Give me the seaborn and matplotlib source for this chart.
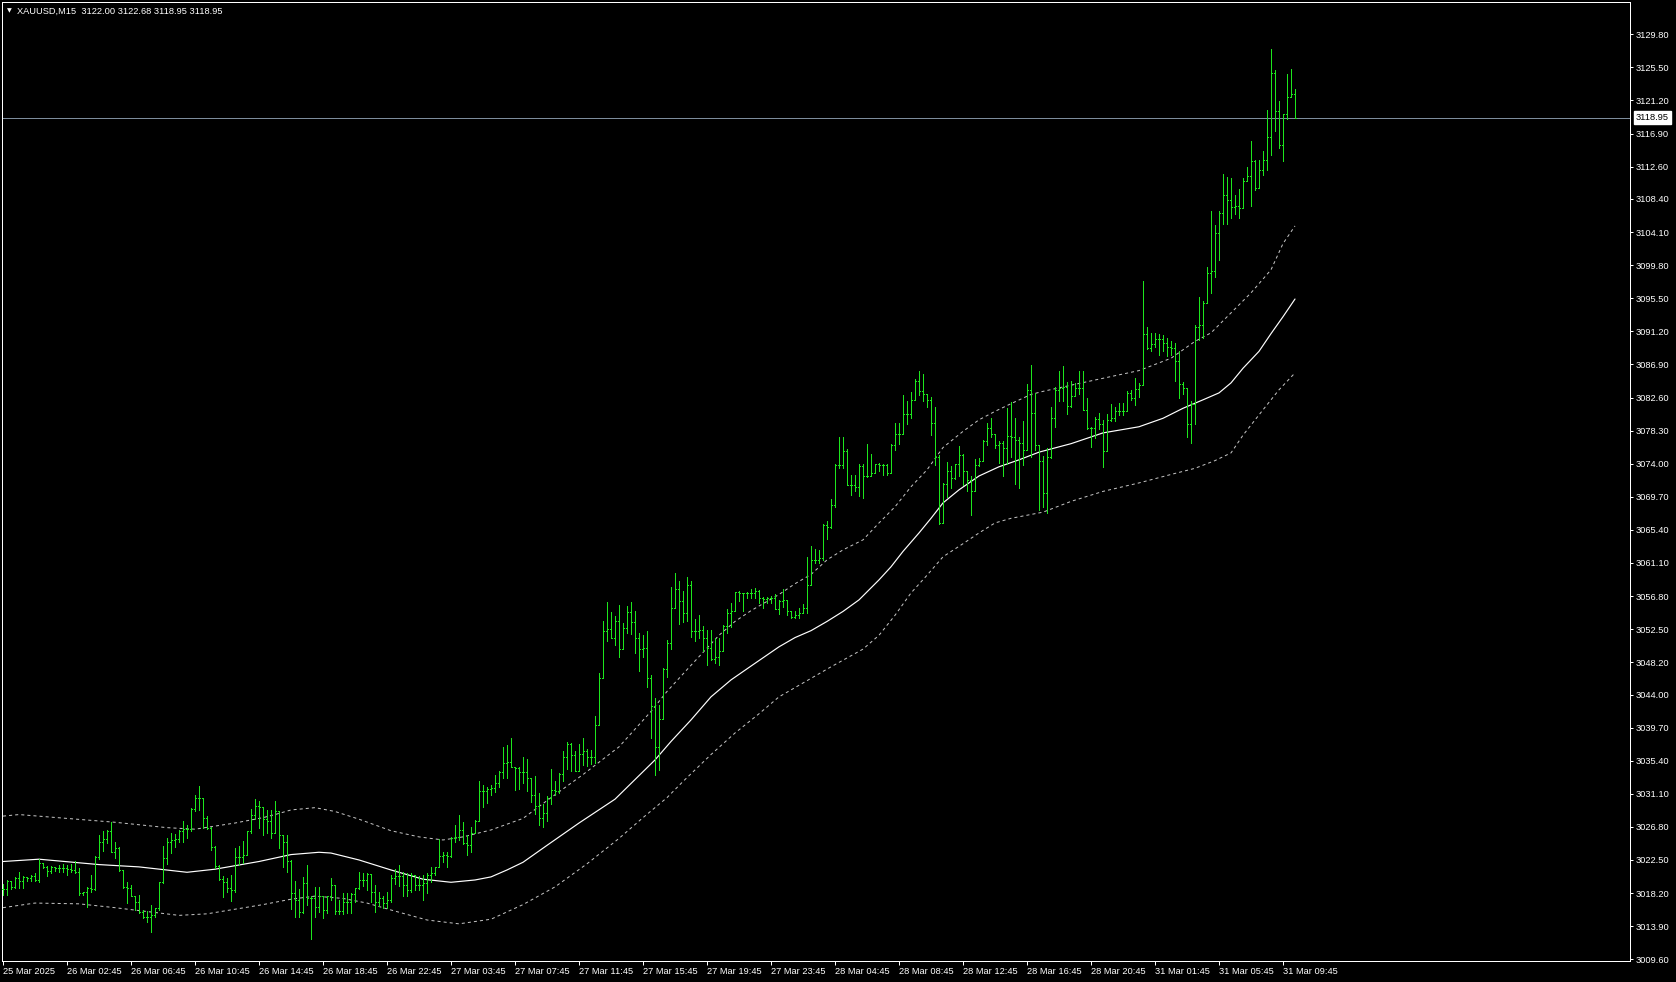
import numpy as np
import pandas as pd
import matplotlib
matplotlib.use("Agg")
import matplotlib.pyplot as plt
import seaborn as sns

# XAUUSD M15 bars (bar 0 = 25 Mar 22:45)
bar_open = [
    3018.7, 3018.7, 3019.8, 3019.0, 3020.2, 3019.8, 3020.3, 3020.1, 3020.4, 3019.9,
    3022.1, 3021.6, 3021.1, 3021.6, 3021.4, 3021.4, 3021.4, 3021.3, 3021.2, 3020.9,
    3018.2, 3018.3, 3018.9, 3018.7, 3022.9, 3024.9, 3025.2, 3026.2, 3023.6, 3024.1,
    3021.2, 3019.0, 3018.9, 3017.8, 3017.0, 3015.8, 3015.1, 3015.1, 3015.4, 3016.2,
    3019.6, 3022.7, 3024.8, 3025.1, 3025.2, 3026.2, 3026.5, 3026.5, 3029.1, 3030.5,
    3030.5, 3028.0, 3026.6, 3024.2, 3021.7, 3020.0, 3019.6, 3018.8, 3018.6, 3022.9,
    3022.9, 3023.2, 3026.2, 3028.4, 3029.5, 3029.4, 3027.8, 3027.6, 3026.0, 3028.9,
    3025.8, 3024.8, 3022.4, 3018.2, 3017.3, 3015.7, 3019.5, 3017.5, 3017.5, 3016.4,
    3017.8, 3016.0, 3017.8, 3019.3, 3015.9, 3015.9, 3017.0, 3017.0, 3018.1, 3018.8,
    3019.9, 3019.9, 3020.7, 3018.4, 3017.0, 3017.5, 3016.9, 3017.3, 3020.1, 3020.4,
    3020.4, 3019.2, 3018.6, 3020.6, 3019.3, 3019.3, 3019.5, 3020.6, 3020.8, 3021.6,
    3023.0, 3023.2, 3023.0, 3025.3, 3025.5, 3026.4, 3024.7, 3024.5, 3026.0, 3027.5,
    3031.5, 3031.5, 3031.7, 3031.8, 3032.5, 3033.9, 3035.1, 3035.2, 3034.6, 3034.4,
    3033.9, 3033.9, 3033.1, 3031.0, 3029.5, 3028.0, 3028.6, 3030.6, 3031.6, 3031.4,
    3033.7, 3035.9, 3037.6, 3036.2, 3034.1, 3036.3, 3036.7, 3035.9, 3035.9, 3040.1,
    3046.1, 3052.2, 3052.5, 3051.4, 3053.5, 3049.9, 3052.6, 3054.7, 3053.4, 3051.3,
    3049.9, 3050.1, 3046.1, 3042.5, 3037.2, 3040.8, 3047.3, 3050.7, 3055.2, 3057.7,
    3056.2, 3054.6, 3058.2, 3052.3, 3052.3, 3052.4, 3051.4, 3050.1, 3048.6, 3048.9,
    3049.6, 3052.9, 3054.6, 3054.8, 3057.3, 3057.2, 3057.2, 3057.2, 3057.2, 3057.5,
    3056.6, 3056.4, 3056.5, 3056.6, 3055.1, 3056.1, 3056.3, 3054.9, 3054.1, 3054.3,
    3054.6, 3055.2, 3058.2, 3061.5, 3061.5, 3061.7, 3066.0, 3065.8, 3068.6, 3073.8,
    3073.8, 3075.7, 3071.2, 3071.2, 3071.0, 3073.7, 3072.4, 3072.4, 3072.8, 3074.0,
    3073.8, 3073.8, 3072.8, 3076.4, 3077.9, 3077.9, 3080.5, 3080.5, 3082.3, 3084.7,
    3083.4, 3083.1, 3082.3, 3079.3, 3074.9, 3066.3, 3071.4, 3073.0, 3072.1, 3074.0,
    3075.1, 3073.0, 3071.9, 3070.5, 3073.8, 3074.4, 3076.9, 3078.6, 3077.9, 3076.4,
    3076.7, 3076.1, 3077.6, 3077.5, 3077.1, 3076.7, 3075.8, 3083.6, 3080.6, 3076.4,
    3074.3, 3070.2, 3074.9, 3079.9, 3083.6, 3083.8, 3084.0, 3081.5, 3082.8, 3083.8,
    3083.8, 3081.0, 3078.6, 3078.6, 3079.8, 3079.2, 3075.7, 3079.7, 3079.9, 3080.9,
    3080.9, 3080.9, 3083.2, 3082.5, 3083.7, 3084.2, 3090.9, 3089.0, 3089.6, 3090.2,
    3090.2, 3089.7, 3089.1, 3089.0, 3087.3, 3084.4, 3083.9, 3079.1, 3081.7, 3091.8,
    3092.0, 3094.9, 3098.8, 3099.0, 3104.0, 3106.6, 3108.9, 3108.3, 3107.4, 3107.5,
    3107.2, 3110.7, 3111.4, 3113.3, 3109.8, 3112.2, 3113.5, 3116.5, 3124.8, 3119.8,
    3115.4, 3119.5, 3121.7, 3122.00,
]
bar_high = [
    3019.4, 3019.9, 3019.8, 3020.3, 3020.9, 3020.4, 3020.3, 3020.5, 3020.8, 3022.6,
    3022.1, 3021.7, 3021.7, 3021.6, 3021.8, 3022.0, 3021.8, 3022.0, 3022.4, 3021.4,
    3018.4, 3019.0, 3020.5, 3023.0, 3025.8, 3026.3, 3026.4, 3027.4, 3024.8, 3024.2,
    3021.2, 3019.6, 3019.3, 3017.8, 3017.9, 3016.0, 3015.9, 3016.7, 3016.3, 3019.7,
    3024.3, 3025.4, 3026.0, 3025.9, 3026.4, 3027.6, 3027.1, 3029.2, 3031.0, 3032.1,
    3030.5, 3028.2, 3026.8, 3024.3, 3021.9, 3020.4, 3020.1, 3020.6, 3024.0, 3024.3,
    3025.0, 3026.3, 3029.1, 3030.4, 3030.2, 3029.4, 3029.0, 3029.0, 3030.2, 3028.9,
    3025.8, 3025.8, 3022.5, 3019.8, 3018.7, 3020.3, 3021.9, 3017.8, 3019.0, 3019.0,
    3017.8, 3017.8, 3020.2, 3019.3, 3017.3, 3018.2, 3018.2, 3018.2, 3018.8, 3020.9,
    3020.8, 3020.8, 3020.7, 3019.2, 3018.4, 3017.8, 3018.4, 3020.6, 3021.3, 3021.8,
    3021.0, 3020.8, 3020.8, 3020.6, 3020.4, 3020.6, 3020.8, 3021.6, 3021.6, 3025.2,
    3023.6, 3023.6, 3025.5, 3027.1, 3028.4, 3027.4, 3025.8, 3026.8, 3027.7, 3032.8,
    3032.3, 3032.0, 3032.3, 3033.6, 3034.1, 3037.2, 3037.4, 3038.4, 3034.6, 3034.6,
    3035.9, 3035.6, 3033.1, 3033.4, 3031.2, 3029.8, 3030.8, 3034.3, 3032.7, 3033.8,
    3036.7, 3037.8, 3037.7, 3036.7, 3037.6, 3038.4, 3036.9, 3036.8, 3041.2, 3046.8,
    3053.6, 3056.0, 3054.7, 3054.2, 3055.6, 3053.3, 3055.5, 3056.0, 3054.8, 3052.0,
    3051.7, 3052.2, 3046.5, 3043.5, 3042.6, 3047.4, 3051.1, 3058.0, 3059.8, 3058.8,
    3057.5, 3059.3, 3058.7, 3053.8, 3054.3, 3052.9, 3052.4, 3052.4, 3051.4, 3051.3,
    3053.1, 3055.1, 3055.9, 3057.3, 3057.4, 3057.2, 3057.3, 3057.7, 3057.9, 3057.6,
    3056.7, 3056.7, 3056.8, 3057.0, 3056.3, 3057.7, 3056.3, 3054.9, 3054.8, 3055.2,
    3055.8, 3061.9, 3063.3, 3062.9, 3062.8, 3066.2, 3066.5, 3069.4, 3074.0, 3077.5,
    3077.5, 3075.9, 3072.5, 3072.5, 3074.0, 3074.0, 3076.6, 3075.3, 3074.0, 3074.1,
    3074.0, 3074.0, 3076.6, 3079.3, 3079.3, 3082.9, 3082.1, 3083.3, 3085.0, 3086.0,
    3085.7, 3083.1, 3082.7, 3081.4, 3075.1, 3071.5, 3074.2, 3073.7, 3074.0, 3076.3,
    3075.3, 3073.0, 3072.4, 3074.6, 3074.7, 3077.1, 3079.3, 3079.9, 3077.9, 3077.0,
    3076.9, 3081.3, 3082.0, 3079.9, 3077.5, 3079.5, 3084.3, 3086.8, 3083.2, 3076.4,
    3075.0, 3076.0, 3081.4, 3084.0, 3086.0, 3086.7, 3084.6, 3084.8, 3084.5, 3086.1,
    3086.0, 3082.5, 3078.8, 3080.1, 3080.6, 3079.7, 3080.5, 3081.8, 3081.4, 3081.9,
    3081.9, 3083.4, 3083.6, 3085.1, 3084.5, 3097.8, 3091.7, 3091.0, 3091.0, 3090.9,
    3090.7, 3090.3, 3089.9, 3089.7, 3088.6, 3084.6, 3083.9, 3082.1, 3092.0, 3095.6,
    3095.2, 3099.6, 3106.8, 3105.0, 3106.9, 3111.7, 3111.3, 3111.1, 3108.9, 3109.7,
    3111.1, 3112.6, 3115.9, 3113.5, 3113.5, 3114.6, 3120.0, 3127.9, 3125.2, 3121.1,
    3119.5, 3124.6, 3125.3, 3122.68,
]
bar_low = [
    3017.9, 3017.9, 3018.7, 3018.8, 3018.8, 3018.8, 3019.8, 3019.8, 3019.8, 3019.6,
    3021.4, 3020.4, 3020.8, 3021.1, 3021.0, 3021.0, 3020.6, 3021.0, 3020.8, 3018.0,
    3018.0, 3016.4, 3018.4, 3018.6, 3022.6, 3023.7, 3024.7, 3023.5, 3022.8, 3021.1,
    3018.9, 3016.9, 3017.8, 3016.0, 3015.6, 3014.9, 3014.4, 3013.2, 3015.1, 3016.0,
    3019.5, 3022.0, 3023.4, 3024.2, 3024.9, 3024.9, 3025.3, 3026.3, 3028.9, 3029.0,
    3026.6, 3026.5, 3023.8, 3021.4, 3019.9, 3017.7, 3018.4, 3017.2, 3018.4, 3021.9,
    3022.1, 3023.2, 3026.0, 3027.8, 3026.6, 3025.7, 3026.0, 3025.3, 3026.0, 3024.0,
    3021.6, 3021.0, 3016.1, 3015.1, 3015.1, 3015.6, 3016.7, 3012.2, 3015.1, 3015.8,
    3015.0, 3015.6, 3017.3, 3015.5, 3015.5, 3015.5, 3015.6, 3015.6, 3017.1, 3018.7,
    3019.1, 3018.6, 3017.1, 3015.8, 3016.5, 3016.2, 3016.2, 3017.1, 3019.4, 3019.1,
    3017.8, 3017.8, 3018.4, 3018.6, 3018.6, 3017.3, 3018.2, 3019.7, 3020.6, 3021.6,
    3022.3, 3021.6, 3022.9, 3024.9, 3025.1, 3024.6, 3023.2, 3023.6, 3026.0, 3027.5,
    3029.4, 3029.9, 3031.0, 3031.3, 3032.0, 3033.2, 3033.2, 3034.6, 3031.6, 3031.7,
    3032.5, 3031.4, 3030.0, 3028.5, 3027.0, 3026.8, 3027.6, 3029.8, 3031.0, 3031.2,
    3032.7, 3034.3, 3034.0, 3034.0, 3034.1, 3034.9, 3034.7, 3035.0, 3035.1, 3040.1,
    3046.1, 3050.9, 3051.3, 3050.4, 3048.9, 3049.9, 3052.0, 3051.9, 3049.4, 3047.1,
    3048.9, 3045.0, 3038.3, 3033.6, 3034.2, 3040.8, 3046.3, 3049.9, 3055.2, 3053.2,
    3053.4, 3053.6, 3051.5, 3050.9, 3051.4, 3049.7, 3047.8, 3048.5, 3048.1, 3047.8,
    3049.6, 3052.0, 3052.8, 3054.8, 3056.1, 3054.9, 3056.5, 3056.6, 3056.6, 3055.9,
    3055.2, 3055.9, 3055.9, 3055.1, 3054.5, 3055.4, 3054.4, 3053.9, 3053.9, 3054.0,
    3054.6, 3054.6, 3058.2, 3061.1, 3061.1, 3061.5, 3064.2, 3065.6, 3068.4, 3073.5,
    3073.5, 3071.2, 3069.9, 3070.5, 3069.8, 3069.6, 3072.3, 3072.4, 3072.8, 3073.1,
    3072.5, 3072.5, 3072.8, 3075.8, 3076.6, 3077.9, 3079.2, 3080.0, 3082.3, 3082.9,
    3082.1, 3081.4, 3077.7, 3073.8, 3066.2, 3066.3, 3069.7, 3070.8, 3072.0, 3072.4,
    3071.2, 3070.4, 3067.3, 3070.5, 3073.7, 3074.3, 3076.4, 3077.5, 3076.1, 3074.1,
    3072.4, 3074.0, 3074.9, 3071.4, 3070.8, 3073.8, 3075.8, 3074.9, 3075.8, 3068.0,
    3068.4, 3067.6, 3074.7, 3078.8, 3082.2, 3082.1, 3080.5, 3081.4, 3082.8, 3083.0,
    3081.0, 3078.5, 3076.2, 3077.3, 3078.5, 3073.6, 3075.7, 3079.6, 3079.5, 3080.3,
    3080.3, 3080.9, 3082.3, 3081.6, 3082.7, 3084.2, 3088.9, 3088.6, 3089.1, 3088.1,
    3088.6, 3088.0, 3088.1, 3084.7, 3082.6, 3083.0, 3077.5, 3076.7, 3079.1, 3090.1,
    3090.3, 3094.9, 3096.2, 3098.3, 3100.5, 3105.2, 3105.2, 3105.9, 3106.5, 3105.9,
    3107.2, 3110.7, 3107.5, 3109.6, 3109.8, 3111.5, 3112.2, 3114.1, 3117.2, 3115.0,
    3113.4, 3118.8, 3121.7, 3118.95,
]
bar_close = [
    3018.7, 3019.8, 3019.0, 3020.2, 3019.8, 3020.3, 3020.1, 3020.4, 3019.9, 3022.1,
    3021.6, 3021.1, 3021.6, 3021.4, 3021.4, 3021.4, 3021.3, 3021.2, 3020.9, 3018.2,
    3018.3, 3018.9, 3018.7, 3022.9, 3024.9, 3025.2, 3026.2, 3023.6, 3024.1, 3021.2,
    3019.0, 3018.9, 3017.8, 3017.0, 3015.8, 3015.1, 3015.1, 3015.4, 3016.2, 3019.6,
    3022.7, 3024.8, 3025.1, 3025.2, 3026.2, 3026.5, 3026.5, 3029.1, 3030.5, 3030.5,
    3028.0, 3026.6, 3024.2, 3021.7, 3020.0, 3019.6, 3018.8, 3018.6, 3022.9, 3022.9,
    3023.2, 3026.2, 3028.4, 3029.5, 3029.4, 3027.8, 3027.6, 3026.0, 3028.9, 3025.8,
    3024.8, 3022.4, 3018.2, 3017.3, 3015.7, 3019.5, 3017.5, 3017.5, 3016.4, 3017.8,
    3016.0, 3017.8, 3019.3, 3015.9, 3015.9, 3017.0, 3017.0, 3018.1, 3018.8, 3019.9,
    3019.9, 3020.7, 3018.4, 3017.0, 3017.5, 3016.9, 3017.3, 3020.1, 3020.4, 3020.4,
    3019.2, 3018.6, 3020.6, 3019.3, 3019.3, 3019.5, 3020.6, 3020.8, 3021.6, 3023.0,
    3023.2, 3023.0, 3025.3, 3025.5, 3026.4, 3024.7, 3024.5, 3026.0, 3027.5, 3031.5,
    3031.5, 3031.7, 3031.8, 3032.5, 3033.9, 3035.1, 3035.2, 3034.6, 3034.4, 3033.9,
    3033.9, 3033.1, 3031.0, 3029.5, 3028.0, 3028.6, 3030.6, 3031.6, 3031.4, 3033.7,
    3035.9, 3037.6, 3036.2, 3034.1, 3036.3, 3036.7, 3035.9, 3035.9, 3040.1, 3046.1,
    3052.2, 3052.5, 3051.4, 3053.5, 3049.9, 3052.6, 3054.7, 3053.4, 3051.3, 3049.9,
    3050.1, 3046.1, 3042.5, 3037.2, 3040.8, 3047.3, 3050.7, 3055.2, 3057.7, 3056.2,
    3054.6, 3058.2, 3052.3, 3052.3, 3052.4, 3051.4, 3050.1, 3048.6, 3048.9, 3049.6,
    3052.9, 3054.6, 3054.8, 3057.3, 3057.2, 3057.2, 3057.2, 3057.2, 3057.5, 3056.6,
    3056.4, 3056.5, 3056.6, 3055.1, 3056.1, 3056.3, 3054.9, 3054.1, 3054.3, 3054.6,
    3055.2, 3058.2, 3061.5, 3061.5, 3061.7, 3066.0, 3065.8, 3068.6, 3073.8, 3073.8,
    3075.7, 3071.2, 3071.2, 3071.0, 3073.7, 3072.4, 3072.4, 3072.8, 3074.0, 3073.8,
    3073.8, 3072.8, 3076.4, 3077.9, 3077.9, 3080.5, 3080.5, 3082.3, 3084.7, 3083.4,
    3083.1, 3082.3, 3079.3, 3074.9, 3066.3, 3071.4, 3073.0, 3072.1, 3074.0, 3075.1,
    3073.0, 3071.9, 3070.5, 3073.8, 3074.4, 3076.9, 3078.6, 3077.9, 3076.4, 3076.7,
    3076.1, 3077.6, 3077.5, 3077.1, 3076.7, 3075.8, 3083.6, 3080.6, 3076.4, 3074.3,
    3070.2, 3074.9, 3079.9, 3083.6, 3083.8, 3084.0, 3081.5, 3082.8, 3083.8, 3083.8,
    3081.0, 3078.6, 3078.6, 3079.8, 3079.2, 3075.7, 3079.7, 3079.9, 3080.9, 3080.9,
    3080.9, 3083.2, 3082.5, 3083.7, 3084.2, 3090.9, 3089.0, 3089.6, 3090.2, 3090.2,
    3089.7, 3089.1, 3089.0, 3087.3, 3084.4, 3083.9, 3079.1, 3081.7, 3091.8, 3092.0,
    3094.9, 3098.8, 3099.0, 3104.0, 3106.6, 3108.9, 3108.3, 3107.4, 3107.5, 3107.2,
    3110.7, 3111.4, 3113.3, 3109.8, 3112.2, 3113.5, 3116.5, 3124.8, 3119.8, 3115.4,
    3119.5, 3121.7, 3122.00, 3118.95,
]

# centre line and bands of the envelope indicator, read at these bars
ma_idx = [0, 9, 24, 34, 46, 53, 64, 72, 79, 82, 89, 97, 105, 112, 118, 122, 126, 130,
          136, 144, 153, 163, 167, 172, 177, 182, 187, 194, 198, 202, 206, 210, 214,
          219, 222, 225, 229, 232, 235, 239, 244, 249, 254, 259, 267, 275, 284, 290,
          295, 300, 304, 307, 310, 314, 317, 320, 323]
ma_val = [3022.3, 3022.6, 3021.9, 3021.6, 3020.9, 3021.3, 3022.3, 3023.2, 3023.5, 3023.4,
          3022.5, 3021.2, 3020.0, 3019.6, 3019.9, 3020.3, 3021.2, 3022.2, 3024.4, 3027.3,
          3030.4, 3035.5, 3037.9, 3040.7, 3043.7, 3045.9, 3047.7, 3050.2, 3051.4, 3052.3,
          3053.5, 3054.8, 3056.3, 3058.9, 3060.6, 3062.6, 3065.0, 3066.9, 3068.9, 3070.6,
          3072.4, 3073.6, 3074.5, 3075.5, 3076.6, 3078.0, 3078.8, 3079.9, 3081.2, 3082.3,
          3083.2, 3084.5, 3086.4, 3088.6, 3090.9, 3093.1, 3095.4]
up_idx = [0, 4, 16, 28, 41, 48, 58, 65, 68, 72, 78, 83, 89, 97, 104, 110, 115, 122, 130,
          137, 145, 154, 162, 166, 172, 179, 183, 187, 194, 198, 202, 206, 210, 215, 219,
          223, 227, 231, 235, 240, 244, 248, 252, 257, 260, 267, 275, 284, 292, 298, 302,
          307, 312, 317, 320, 323]
up_val = [3028.2, 3028.4, 3027.9, 3027.4, 3026.7, 3026.5, 3027.3, 3028.0, 3028.4, 3029.0,
          3029.3, 3028.8, 3027.8, 3026.3, 3025.5, 3025.1, 3025.5, 3026.4, 3027.9, 3030.6,
          3033.6, 3037.2, 3041.8, 3044.4, 3047.8, 3051.7, 3053.5, 3054.9, 3057.0, 3058.4,
          3059.6, 3061.5, 3062.8, 3064.1, 3066.3, 3068.4, 3071.0, 3073.2, 3076.1, 3078.2,
          3079.7, 3080.8, 3081.8, 3083.0, 3083.4, 3084.2, 3085.1, 3086.1, 3087.7, 3089.9,
          3091.0, 3093.6, 3096.2, 3099.2, 3102.6, 3104.9]
lo_idx = [0, 8, 19, 28, 44, 51, 65, 72, 78, 85, 91, 97, 106, 114, 122, 130, 138, 146, 154,
          160, 166, 170, 177, 183, 189, 194, 200, 207, 215, 219, 223, 227, 231, 235, 240,
          244, 248, 252, 257, 260, 267, 275, 284, 292, 298, 303, 307, 310, 315, 319, 323]
lo_val = [3016.3, 3016.9, 3016.8, 3016.3, 3015.3, 3015.5, 3016.7, 3017.4, 3017.8, 3017.5,
          3016.9, 3016.0, 3014.7, 3014.2, 3014.8, 3016.7, 3019.0, 3022.0, 3025.3, 3028.0,
          3030.6, 3032.7, 3036.2, 3039.0, 3041.5, 3043.7, 3045.5, 3047.6, 3049.9, 3051.7,
          3054.3, 3057.2, 3059.5, 3061.9, 3063.6, 3065.0, 3066.3, 3066.9, 3067.4, 3067.7,
          3069.1, 3070.4, 3071.5, 3072.6, 3073.4, 3074.4, 3075.4, 3077.7, 3081.0, 3083.6,
          3085.8]

last_price = 3118.95
header = "XAUUSD,M15  3122.00 3122.68 3118.95 3118.95"

time_labels = ["25 Mar 2025", "26 Mar 02:45", "26 Mar 06:45", "26 Mar 10:45", "26 Mar 14:45",
               "26 Mar 18:45", "26 Mar 22:45", "27 Mar 03:45", "27 Mar 07:45", "27 Mar 11:45",
               "27 Mar 15:45", "27 Mar 19:45", "27 Mar 23:45", "28 Mar 04:45", "28 Mar 08:45",
               "28 Mar 12:45", "28 Mar 16:45", "28 Mar 20:45", "31 Mar 01:45", "31 Mar 05:45",
               "31 Mar 09:45"]
price_ticks = [3009.60, 3013.90, 3018.20, 3022.50, 3026.80, 3031.10, 3035.40, 3039.70,
               3044.00, 3048.20, 3052.50, 3056.80, 3061.10, 3065.40, 3069.70, 3074.00,
               3078.30, 3082.60, 3086.90, 3091.20, 3095.50, 3099.80, 3104.10, 3108.40,
               3112.60, 3116.90, 3121.20, 3125.50, 3129.80]

assert len(bar_open) == len(bar_high) == len(bar_low) == len(bar_close)

sns.set_theme(style="dark")
plt.rcParams['font.family'] = ['Liberation Sans', 'DejaVu Sans']
plt.rcParams['lines.scale_dashes'] = False

W, H = 1676, 982
PX = 0.72  # one pixel in points at dpi 100
fig = plt.figure(figsize=(W / 100, H / 100), dpi=100, facecolor='black')
ax = fig.add_axes([2 / W, (H - 961) / H, (1630 - 2) / W, (961 - 2) / H])
ax.set_facecolor('black')

green = '#1de61d'
idx = np.arange(len(bar_close))
ax.vlines(idx, bar_low, bar_high, color=green, lw=PX, antialiased=False, zorder=3)
ax.hlines(bar_open, idx - 0.3, idx, color=green, lw=PX, antialiased=False, zorder=3)
ax.hlines(bar_close, idx, idx + 0.3, color=green, lw=PX, antialiased=False, zorder=3)

# indicator lines through seaborn
ma_df = pd.DataFrame({'bar': ma_idx, 'price': ma_val})
up_df = pd.DataFrame({'bar': up_idx, 'price': up_val})
lo_df = pd.DataFrame({'bar': lo_idx, 'price': lo_val})
sns.lineplot(data=ma_df, x='bar', y='price', color='white', lw=0.85, estimator=None, ax=ax, zorder=2)
for band in (up_df, lo_df):
    sns.lineplot(data=band, x='bar', y='price', color='#c4c4c4', lw=PX,
                 linestyle=(0, (2.2, 2.2)), estimator=None, ax=ax, zorder=2)

ax.axhline(last_price, color='#7d8c9c', lw=PX, zorder=1)

ax.set_xlim(-0.25, 406.75)
ax.set_ylim(3009.37, 3134.0)
ax.grid(False)
ax.set_xlabel('')
ax.set_ylabel('')
for s in ax.spines.values():
    s.set_visible(True)
    s.set_color('white')
    s.set_linewidth(PX)

ax.yaxis.tick_right()
ax.set_yticks(price_ticks)
ax.set_yticklabels([f'{v:.2f}' for v in price_ticks])
ax.tick_params(axis='y', which='both', direction='out', length=2.2, width=PX,
               colors='white', labelsize=6.7, pad=2, right=True, left=False)

ax.set_xticks(np.arange(len(time_labels)) * 16)
ax.set_xticklabels(time_labels)
ax.tick_params(axis='x', direction='out', length=3, width=PX, colors='white',
               labelsize=6.7, pad=1.5, bottom=True)
for lbl in ax.get_xticklabels():
    lbl.set_ha('left')

# current price box on the axis
ax.text(1 + 5.7 / 1628, last_price, f'{last_price:.2f}', transform=ax.get_yaxis_transform(),
        color='black', fontsize=6.7, va='center', ha='left',
        bbox=dict(boxstyle='square,pad=0.22', facecolor='white', edgecolor='white'))

fig.text(7 / W, 1 - 11 / H, '\u25bc', color='white', fontsize=4.5, va='center', ha='left',
         family=['DejaVu Sans'])
fig.text(17 / W, 1 - 11 / H, header, color='white', fontsize=6.7, va='center', ha='left')

fig.savefig('out.png', dpi=100, facecolor='black')
